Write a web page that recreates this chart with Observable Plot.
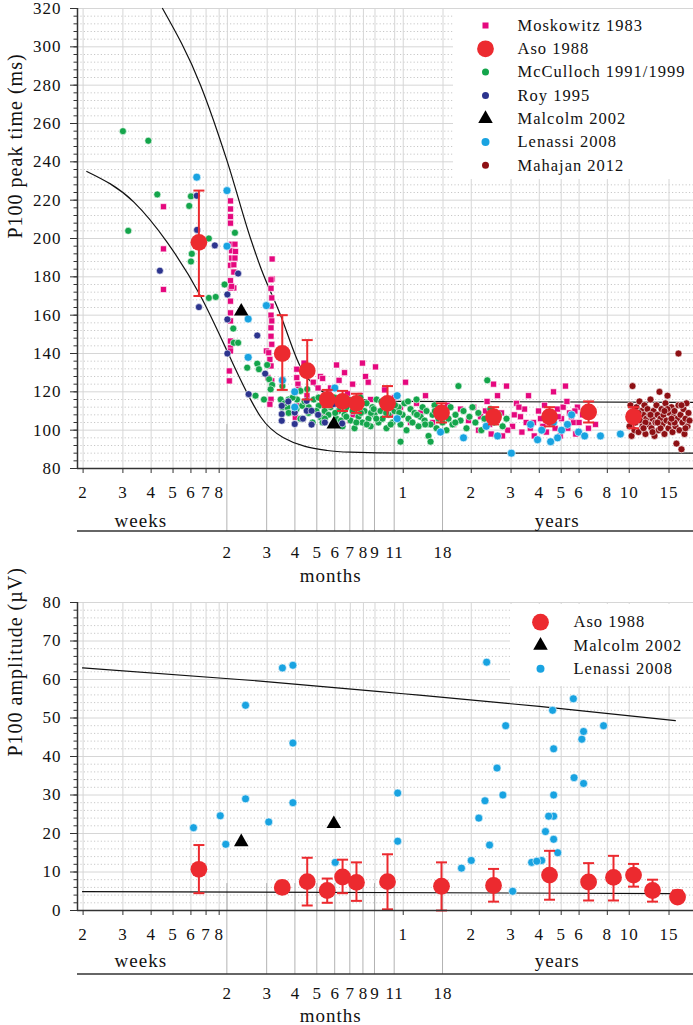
<!DOCTYPE html>
<html><head><meta charset="utf-8">
<script src="https://cdn.jsdelivr.net/npm/d3@7"></script>
<script src="https://cdn.jsdelivr.net/npm/@observablehq/plot@0.6"></script>
<style>
body{margin:0;background:#fff;}
#chart{width:693px;}
#chart svg{display:block;}
#chart svg text{font-family:"Liberation Serif",serif !important;letter-spacing:1px;}
</style></head><body><div id="chart"></div>
<script>
// ---------- axis tick labels ----------
const weekTicks = [2,3,4,5,6,7,8];
const monthTicks = [2,3,4,5,6,7,8,9,11,18];
const yearTicks = [1,2,3,4,5,6,8,10,15];
const axisNames = [{t:"weeks", at:0.069}, {t:"years", at:4.8}];
const monthsName = [{t:"months", at:0.478}];

// ---------- series (age in years, value) ----------
const moskowitz = [
[0.0869,216.6],[0.0869,194.6],[0.0869,173.4],
[0.172,219.6],[0.172,215.4],[0.172,211.4],[0.172,208],[0.174,197],[0.18,197],[0.174,193.6],[0.181,193.2],[0.174,189.8],[0.18,189.8],[0.172,186],[0.178,186.3],[0.178,182.5],[0.172,178],[0.178,174.2],[0.172,174.2],[0.172,167.3],[0.172,161.2],[0.172,157],[0.174,175],[0.172,146.5],[0.172,143],[0.172,141.3],[0.17,130.9],[0.17,125.7],
[0.263,189.3],[0.263,178.9],
[0.26,178.5],[0.26,174],[0.262,169],[0.26,164.7],[0.26,160],[0.262,157],[0.26,153.4],[0.26,149],[0.262,144.8],[0.248,141.3],[0.254,140.4],[0.257,136.9],[0.26,133.5],[0.252,127.4],[0.262,125.7],[0.26,121.3],[0.26,116.1],[0.257,113.5],
[0.338,131.8],[0.338,127.4],[0.342,124],[0.345,121.3],[0.331,119.6],[0.338,112.7],[0.333,106.7],
[0.364,135],[0.389,130],[0.40,125],[0.375,118],[0.42,122],[0.43,128],[0.45,113],[0.47,120],[0.44,107],
[0.44,127],[0.477,122],[0.507,134],[0.533,112],[0.567,119],[0.597,124],[0.621,113],[0.647,118],[0.681,128],[0.717,116],[0.754,133],[0.793,110],[0.827,121],[0.879,108],[0.915,117],[0.973,112],[1.024,125],[1.077,104],[1.145,114],[1.193,109],[1.255,118],[1.348,104],[1.462,110],[1.57,113],[1.67,103],[1.793,111],[1.945,105],[2.153,100],[2.312,110],[2.41,103],[2.51,124],[2.614,118],[2.722,109],[2.865,123],[3.045,102],[3.171,114],[3.303,107],[3.441,111],[3.584,118],[3.772,104],[3.969,110],[4.22,113],[4.44,104],[4.624,120],[4.817,111],[5.017,106],[5.224,123],[5.44,109],[5.668,104],[5.9,112],[6.214,108],[6.603,101],[7.093,103],
[2.2,107],[2.45,98],[2.6,105],[2.9,100],[3.1,108],[3.35,99],[3.5,104],[3.8,97],[4.05,106],[4.3,99],[4.5,108],[4.7,101],[4.95,97],[5.1,112],[5.35,101],[5.55,107],[5.8,98],[6.0,104],[6.4,110],[2.05,112],[2.35,115],[2.75,97],[3.25,112],[3.65,101],[4.15,102],[4.85,107],[5.3,115],[5.75,110],
[0.55,130],[0.6,108],[0.7,125],[0.75,110],[0.85,113],[0.66,135],[0.52,126],[0.58,105]
];
const mcculloch = [
[0.0575,256],[0.0745,251],[0.0607,204],[0.0816,223],[0.115,222],[0.113,217],[0.138,200],[0.18,203],[0.116,192],[0.115,188],[0.138,169],[0.148,169.5],[0.162,176],[0.177,153],[0.178,145.6],[0.186,145.6],[0.204,132.6],[0.226,134.7],[0.23,131.8],[0.222,118],[0.242,116],[0.25,134],[0.255,126.6],[0.263,123.6],[0.259,121.3],[0.292,123],[0.287,116],[0.311,116],[0.339,116],[0.292,112],[0.307,112],[0.351,120.5],[0.376,121.4],[0.357,112.7],[0.382,112],[0.402,116],[0.423,112.7],[0.431,106.7],
[0.299,114],[0.311,109],[0.324,117],[0.337,111],[0.351,106],[0.366,115],[0.381,109],[0.397,104],[0.413,110],[0.422,117],
[0.440,104],[0.449,110],[0.458,115],[0.467,108],[0.477,112],[0.487,103],[0.497,117],[0.507,106],[0.517,110],[0.528,114],[0.539,102],[0.550,108],[0.561,112],[0.573,116],[0.585,105],[0.597,110],[0.609,101],[0.621,113],[0.634,107],[0.647,117],[0.660,104],[0.674,110],[0.688,114],[0.702,106],[0.717,102],[0.731,112],[0.746,108],[0.762,116],[0.777,104],[0.793,110],[0.810,106],[0.826,113],[0.843,101],[0.861,108],[0.879,115],[0.897,104],[0.915,110],[0.934,106],[0.953,112],[0.973,103],[0.993,108],[1.013,114],[1.034,100],[1.055,106],[1.077,111],[1.099,104],[1.122,109],[1.145,116],[1.169,102],[1.193,107],[1.218,112],[1.243,105],[1.268,110],[1.294,97],[1.321,103],[1.348,108],[1.376,113],[1.404,101],[1.433,106],[1.462,111],[1.492,104],[1.523,109],[1.554,100],[1.586,106],[1.619,112],[1.652,103],[1.703,108],[1.755,123],[1.793,105],[1.848,110],[1.905,101],[1.963,107],[2.024,112],[2.086,104],[2.150,109],[2.217,100],[2.285,106],[2.355,126],[2.427,111],[2.527,104],[2.643,108],[2.753,102],[2.865,106],[0.973,94],[1.321,94],
[0.45,106],[0.47,113],[0.5,109],[0.53,105],[0.56,107],[0.59,114],[0.62,104],[0.65,109],[0.69,103],[0.72,109],[0.76,106],[0.8,115],[0.84,109],[0.88,103],[0.92,113],[0.96,109],[1.05,115],[1.15,108],[1.25,103],[1.38,110],[1.5,107],[1.7,104],[0.55,117],[0.64,112],[0.74,111]
];
const roy = [
[0.122,222.3],[0.1224,204.5],[0.1467,196.4],[0.0838,183.2],[0.1247,164.2],[0.1667,170.8],[0.1667,157.8],[0.1667,140],[0.186,181.7],[0.226,149.4],[0.207,118.8],[0.245,129.5],[0.29,108.4],[0.29,104.9],[0.29,112.7],[0.331,103.2],[0.331,109.2],[0.374,115.3],[0.374,110.1],[0.393,110.1],[0.393,102.9],[0.493,113.6],[0.537,103.5],[0.36,106],[0.42,108],[0.45,104],[0.31,115]
];
const malcolmP100 = [[0.192,162],[0.493,103]];
const malcolmAmp = [[0.192,17.8],[0.493,22.5]];
const lenassiP100 = [
[0.122,232],[0.166,225],[0.166,196],[0.206,158],[0.206,138],[0.248,165],[0.292,126],[0.331,120],[0.331,112],[0.498,122],[0.94,118],[0.94,106],
[1.462,99],[1.848,96],[2.33,102],[2.614,97],[3.01,88],[3.66,103],[3.93,95],[4.1,100],[4.31,108],[4.49,94],[4.62,104],[4.82,96],[5.02,100],[5.33,103],[5.56,108],[5.97,99],[6.35,97],[7.46,97],[9.14,98]
];
const lenassiAmp = [
[0.118,21.5],[0.155,24.6],[0.164,17.2],[0.2006,29],[0.2006,53.3],[0.254,23],[0.292,63],[0.325,63.7],[0.325,43.5],[0.325,28],[0.50,12.5],[0.945,30.5],[0.945,18],[1.81,11],[2.0,13],[2.16,24],[2.3,28.5],[2.41,17],[2.6,37],[2.76,30],[2.34,64.5],[2.84,48],[3.05,5],[3.7,12.5],[4.1,13],[4.26,20.5],[4.58,52],[4.63,42],[4.63,30],[4.63,24.5],[4.63,18.5],[4.83,15],[5.66,55],[5.7,34.5],[6.17,44.5],[6.28,46.5],[6.28,33],[7.7,48],[4.4,24.5],[3.9,12.8]
];
const mahajan = [
[10.03,108],[10.03,102],[10.13,113],[10.24,97],[10.34,123],[10.34,106],[10.45,110],[10.55,100],[10.66,104],[10.77,112],[10.88,107],[10.99,99],[11.10,115],[11.22,105],[11.33,110],[11.45,102],[11.57,108],[11.68,113],[11.80,98],[11.92,106],[12.05,111],[12.17,103],[12.29,108],[12.42,116],[12.55,101],[12.68,106],[12.81,110],[12.94,97],[13.07,104],[13.20,113],[13.34,108],[13.47,100],[13.61,120],[13.75,106],[13.89,111],[14.03,103],[14.18,108],[14.32,98],[14.47,114],[14.62,105],[14.77,118],[14.92,101],[15.07,109],[15.23,104],[15.38,112],[15.54,99],[15.70,107],[15.86,110],[16.02,102],[16.18,93],[16.35,106],[16.52,140],[16.52,113],[16.69,100],[16.86,108],[17.03,90],[17.20,104],[17.38,111],[17.56,98],[17.74,106],[17.92,114],[18.10,102],[18.29,109],[18.48,105],
[10.99,109],[11.80,104],[12.68,99],[13.75,101],[14.77,111],[15.86,104],[17.03,113],[12.42,108],[11.57,101],[13.34,104],[14.32,110],[15.38,106],[17.74,101]
];
// Aso 1988: age, mean, lower, upper
const asoP100 = [
[0.1247,198,170,225],[0.2916,140,121,160],[0.376,131,116,147],[0.461,116,112,121],[0.539,115,110,120.5],[0.621,114,109,119],[0.852,114,107,123],[1.477,109,104,114],[2.51,107,103,112],[4.44,107,102,112],[6.61,109.5,104,115],[10.45,107,101,112]
];
const asoAmp = [
[0.1247,10.7,4.5,17],[0.2916,6,4.5,7.5],[0.376,7.5,1.3,13.7],[0.461,5.2,2,8.3],[0.539,8.7,4.5,13.2],[0.621,7.3,2.5,12.5],[0.852,7.5,0.3,14.6],[1.477,6.3,0,12.5],[2.51,6.5,2.3,10.8],[4.44,9.2,2.8,15.5],[6.61,7.4,2.6,12.3],[8.52,8.6,2.6,14.2],[10.45,9.2,6.2,12.1],[12.68,5.2,2.3,8],[16.36,3.5,2.2,5.2]
];
// reference curves
const p100Upper = [[0.0861,320],[0.1268,280],[0.1667,240],[0.2111,200],[0.2337,185],[0.2866,160],[0.3513,133],[0.4167,122],[0.528,117],[0.973,115],[19.25,114.5]];
const p100Lower = [[0.0398,235],[0.0643,219],[0.0903,198],[0.1268,170],[0.1667,141],[0.1775,134],[0.2111,116],[0.2337,107],[0.2953,96],[0.4613,89.4],[0.585,88.5],[1,88],[19.25,88]];
const ampUpper = [[0.0381,63],[0.233,59.6],[1,56.3],[4,53],[16,49.3]];
const ampLower = [[0.0381,4.9],[16,4.4]];

const legendTop = ["Moskowitz 1983","Aso 1988","McCulloch 1991/1999","Roy 1995","Malcolm 2002","Lenassi 2008","Mahajan 2012"];
const legendBottom = ["Aso 1988","Malcolm 2002","Lenassi 2008"];

// ---------- styles ----------
const FONT = "Liberation Serif, serif";
const S = {
  "Moskowitz 1983": {fill:"#e5087e", symbol:"square", r:3.4, stroke:"white"},
  "Aso 1988": {fill:"#ec2a2f", symbol:"circle", r:8.4, stroke:"none"},
  "McCulloch 1991/1999": {fill:"#14a54b", symbol:"circle", r:3.5, stroke:"white"},
  "Roy 1995": {fill:"#2c348e", symbol:"circle", r:3.5, stroke:"white"},
  "Malcolm 2002": {fill:"#000", symbol:"triangle", r:5.4, stroke:"none"},
  "Lenassi 2008": {fill:"#19a3e1", symbol:"circle", r:4, stroke:"white"},
  "Mahajan 2012": {fill:"#8e1014", symbol:"circle", r:3.5, stroke:"white"}
};
const RED = "#ec2a2f";
const xDomain = [0.0362, 19.25];
const wk = w => w / 52.18, mo = m => m / 12;
const xTicks = [...weekTicks.map(w => ({v: wk(w), t: String(w)})), ...yearTicks.map(y => ({v: y, t: String(y)}))];
const monthTickObjs = monthTicks.map(m => ({v: mo(m), t: String(m)}));
const gridXVals = [...weekTicks.map(wk), ...monthTicks.map(mo), ...yearTicks];
const capSymbol = {draw(ctx, size){ const w = Math.sqrt(size/Math.PI); ctx.moveTo(-w,0); ctx.lineTo(w,0); }};

const series = (data, name) => Plot.dot(data, {x: d => d[0], y: d => d[1], r: S[name].r, symbol: S[name].symbol, fill: S[name].fill, stroke: S[name].stroke, strokeWidth: 0.6});
const curve = data => Plot.line(data, {x: d => d[0], y: d => d[1], stroke: "#111", strokeWidth: 1.2, curve: "monotone-x"});
const aso = data => [
  Plot.ruleX(data, {x: d => d[0], y1: d => d[2], y2: d => d[3], stroke: RED, strokeWidth: 2}),
  Plot.dot(data, {x: d => d[0], y: d => d[2], symbol: capSymbol, r: 5.5, stroke: RED, strokeWidth: 2, fill: "none"}),
  Plot.dot(data, {x: d => d[0], y: d => d[3], symbol: capSymbol, r: 5.5, stroke: RED, strokeWidth: 2, fill: "none"}),
  Plot.dot(data, {x: d => d[0], y: d => d[1], r: S["Aso 1988"].r, fill: RED})
];

function decor(yStart, lineOff) {
  return (index, scales, values, dim) => {
    const g = d3.create("svg:g");
    const yb = dim.height - dim.marginBottom;
    const y0 = scales.y(yStart);
    for (const m of monthTicks) {
      const x = scales.x(mo(m));
      g.append("line").attr("x1", x).attr("x2", x).attr("y1", y0).attr("y2", yb + lineOff)
        .attr("stroke", "#b3b3b3").attr("stroke-width", 1);
    }
    g.append("line").attr("x1", dim.marginLeft).attr("x2", dim.width).attr("y1", yb + lineOff).attr("y2", yb + lineOff)
      .attr("stroke", "#333").attr("stroke-width", 1.4);
    return g.node();
  };
}
function legendBox(x0, y0, y1) {
  return (index, scales, values, dim) => {
    const g = d3.create("svg:g");
    g.append("rect").attr("x", dim.marginLeft + x0).attr("y", dim.marginTop + y0)
      .attr("width", dim.width - dim.marginLeft - x0).attr("height", y1 - y0).attr("fill", "white");
    return g.node();
  };
}
function legend(names, symDx, textDx, dy0, step) {
  return names.flatMap((n, i) => [
    Plot.dot([0], {frameAnchor: "top-left", dx: symDx, dy: dy0 + step * i, r: S[n].r, symbol: S[n].symbol, fill: S[n].fill, stroke: "none"}),
    Plot.text([n], {frameAnchor: "top-left", dx: textDx, dy: dy0 + step * i, textAnchor: "start", lineAnchor: "middle", fontSize: 16.5, fill: "#111", fontFamily: FONT})
  ]);
}
function panel({height, marginTop, marginBottom, yDomain, yMajor, yMinor, yLabel, monthStart, lineOff, tickOff, monthOff, monthsNameOff, weeksOff, data, box, leg}) {
  const minorOnly = yMinor.filter(v => !yMajor.includes(v));
  return Plot.plot({
    width: 693, height, marginLeft: 77, marginRight: 0, marginTop, marginBottom,
    x: {type: "log", domain: xDomain},
    y: {domain: yDomain},
    style: {background: "white", overflow: "visible", color: "#111"},
    marks: [
      Plot.gridY(minorOnly, {stroke: "#c8c8c8", strokeOpacity: 1, strokeDasharray: "1.2,2.2"}),
      Plot.gridY(yMajor, {stroke: "#d6d6d6", strokeOpacity: 1}),
      Plot.gridX(gridXVals, {stroke: "#d6d6d6", strokeOpacity: 1}),
      legendBox(box[0], box[1], box[2]),
      decor(monthStart, lineOff),
      ...data,
      ...leg,
      Plot.ruleX([xDomain[0]], {stroke: "#333", strokeWidth: 1.5}),
      Plot.ruleY([yDomain[0]], {stroke: "#333", strokeWidth: 1.5}),
      Plot.axisY(yMajor, {tickSize: 7, tickPadding: 9, label: null, stroke: "#333", fill: "#111", fontSize: 17, fontFamily: FONT}),
      Plot.axisY(yMinor, {tickSize: 3.5, tickFormat: () => "", label: null, stroke: "#333"}),
      Plot.axisX(xTicks.map(d => d.v), {tickSize: 5, tickFormat: () => "", label: null, stroke: "#333"}),
      Plot.text(xTicks, {x: "v", text: "t", frameAnchor: "bottom", dy: tickOff, lineAnchor: "middle", fontSize: 17, fill: "#111", fontFamily: FONT}),
      Plot.text(monthTickObjs, {x: "v", text: "t", frameAnchor: "bottom", dy: monthOff, lineAnchor: "middle", fontSize: 17, fill: "#111", fontFamily: FONT}),
      Plot.text(axisNames, {x: "at", text: "t", frameAnchor: "bottom", dy: weeksOff, lineAnchor: "middle", fontSize: 19, fill: "#111", fontFamily: FONT}),
      Plot.text(monthsName, {x: "at", text: "t", frameAnchor: "bottom", dy: monthsNameOff, lineAnchor: "middle", fontSize: 19, fill: "#111", fontFamily: FONT}),
      Plot.text([yLabel], {frameAnchor: "left", dx: -62, rotate: -90, lineAnchor: "middle", fontSize: 20, fill: "#111", fontFamily: FONT})
    ]
  });
}

const topPanel = panel({
  height: 590, marginTop: 8, marginBottom: 122, yDomain: [80, 320],
  yMajor: d3.range(80, 321, 20), yMinor: d3.range(80, 321, 4), yLabel: "P100 peak time (ms)",
  monthStart: 103, lineOff: 63, tickOff: 24, monthOff: 84, weeksOff: 52, monthsNameOff: 107,
  box: [376, 1, 171],
  data: [
    curve(p100Upper), curve(p100Lower),
    series(moskowitz, "Moskowitz 1983"),
    series(mcculloch, "McCulloch 1991/1999"),
    series(roy, "Roy 1995"),
    series(lenassiP100, "Lenassi 2008"),
    series(mahajan, "Mahajan 2012"),
    series(malcolmP100, "Malcolm 2002"),
    ...aso(asoP100)
  ],
  leg: legend(legendTop, 408, 440, 17, 23.3)
});
const bottomPanel = panel({
  height: 435, marginTop: 12, marginBottom: 115, yDomain: [0, 80],
  yMajor: d3.range(0, 81, 10), yMinor: d3.range(0, 81, 2), yLabel: "P100 amplitude (µV)",
  monthStart: 7, lineOff: 64, tickOff: 24, monthOff: 83, monthsNameOff: 105, weeksOff: 50,
  box: [433, 2, 84],
  data: [
    curve(ampUpper), curve(ampLower),
    series(lenassiAmp, "Lenassi 2008"),
    series(malcolmAmp, "Malcolm 2002"),
    ...aso(asoAmp)
  ],
  leg: legend(legendBottom, 463, 496, 19.7, 23.3)
});
document.getElementById("chart").append(topPanel, bottomPanel);
</script></body></html>
